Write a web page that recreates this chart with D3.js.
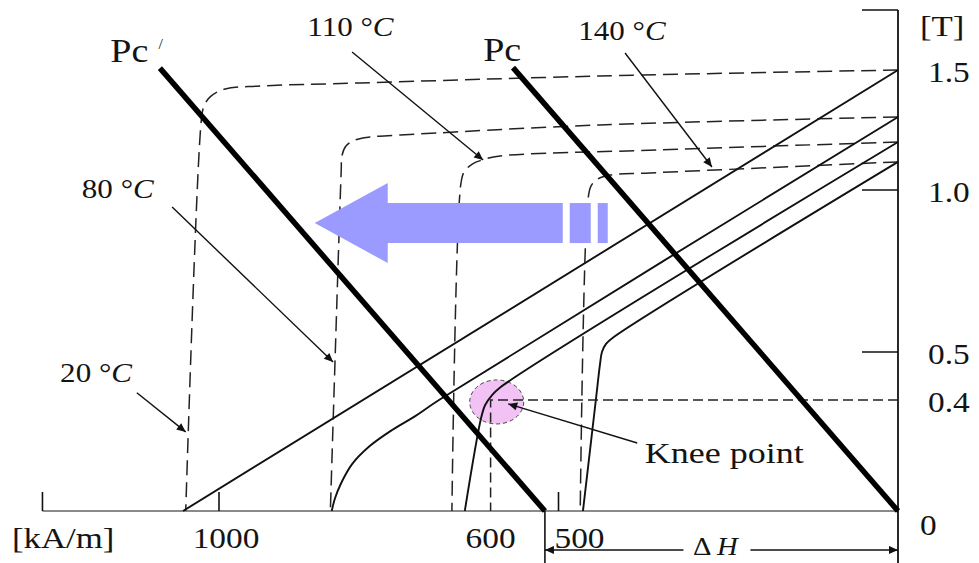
<!DOCTYPE html>
<html><head><meta charset="utf-8">
<script src="https://cdn.jsdelivr.net/npm/d3@7"></script>
<style>
html,body{margin:0;padding:0;background:#fff;}
svg{display:block;}
text{font-family:"Liberation Serif","Times New Roman",serif;fill:#141414;}
</style></head><body>
<svg id="chart" width="979" height="563"></svg>
<script>
// Demagnetization curves of a magnet at four temperatures.
// H is the (reversed) field in kA/m, B the flux density in T.
const temperatures = ["20", "80", "110", "140"];

// Normal B-H curves, points as [H, B]
const bhCurve20  = [[0,1.5],[1053,0]];
const bhCurve80  = [[0,1.304],[676,0.4],[711,0.342],[745,0.292],[778,0.234],[804,0.169],[820,0.101],[829,0.047],[834,0]];
const bhCurve110 = [[0,1.2],[586,0.426],[599,0.408],[608,0.382],[614,0.335],[638,0]];
const bhCurve140 = [[0,1.117],[420,0.544],[430,0.525],[436,0.5],[439,0.473],[445,0.4],[464,0]];

// Intrinsic J-H curves, points as [H, J]
const jhCurve20  = [[0,1.5],[439,1.475],[792,1.446],[940,1.433],[991,1.421],[1013,1.388],[1022,1.35],[1026,1.292],[1049,0]];
const jhCurve80  = [[0,1.304],[439,1.271],[733,1.229],[778,1.221],[800,1.208],[813,1.183],[819,1.142],[820,1.083],[836,0]];
const jhCurve110 = [[0,1.2],[350,1.167],[586,1.142],[608,1.129],[627,1.108],[639,1.075],[644,1.021],[657,0]];
const jhCurve140 = [[0,1.117],[365,1.071],[424,1.0625],[442,1.046],[452,1.017],[457,0.96],[468,0]];

// Permeance (load) lines
const pcLine    = [[567,1.51],[0,0]];
const pcShifted = [[1087,1.508],[520,0]];

const kneePoint = [600, 0.4];

// Axis ticks
const bTicks      = [1.5, 1.0, 0.5, 0.4, 0];
const bTickLabels = ["1.5", "1.0", "0.5", "0.4", "0"];
const bTickMarks  = [1.0, 0.5];
const bAxisTop    = 1.75;
const hTicks      = [1000, 600, 500];
const hTickLabels = ["1000", "600", "500"];
const hTickMarks  = [1260, 1000, 500];
const hAxisEnd    = 1260;

// Callouts: label anchor, arrow start, arrow end, all as [H, B]
const tempCallouts = [
  {at:[1234,0.4375], from:[1121,0.415], to:[1049,0.285]},
  {at:[1202,0.975],  from:[1069,0.9475], to:[832,0.479]},
  {at:[870,1.642],   from:[804,1.575],  to:[611,1.125]},
  {at:[471,1.625],   from:[402,1.571],  to:[274,1.096]}
];
const kneeCallout = {text:"Knee point", at:[373,0.173], from:[384,0.245], to:[574,0.386]};
const kneeMarkCenter = [591, 0.393];
const pcLabelAt = [611, 1.5375];
const pcShiftedLabelAt = [1160, 1.533];
const shiftArrowTip = [859, 0.898];

const svg = d3.select("#chart");
const W = 979, H = 563;

const x = d3.scaleLinear().domain([0, 1000]).range([898, 219]);
// the B axis of this sketch is drawn piecewise
const y = d3.scaleLinear().domain([0, 0.4, 0.5, 1.0, 1.5]).range([511, 400, 352, 190, 70]);

const smooth = d3.line()
  .x(d => x(d[0])).y(d => y(d[1]))
  .curve(d3.curveCatmullRom.alpha(0.5));
const straight = d3.line().x(d => x(d[0])).y(d => y(d[1]));

const defs = svg.append("defs");
defs.append("marker").attr("id", "tip")
  .attr("viewBox", "0 0 10 10").attr("refX", 10).attr("refY", 5)
  .attr("markerWidth", 13).attr("markerHeight", 9)
  .attr("markerUnits", "userSpaceOnUse").attr("orient", "auto-start-reverse")
  .append("path").attr("d", "M0,0.5L10,5L0,9.5Z").attr("fill", "#111");

const ink = "#111";

// ---- axes ----
const axes = svg.append("g");
axes.append("line")
  .attr("x1", x(hAxisEnd)).attr("x2", x(0)).attr("y1", y(0)).attr("y2", y(0))
  .attr("stroke", "#8a8a8a").attr("stroke-width", 2);
axes.selectAll(".htm").data(hTickMarks).join("line")
  .attr("x1", d => x(d)).attr("x2", d => x(d))
  .attr("y1", y(0)).attr("y2", y(0) - 19)
  .attr("stroke", ink).attr("stroke-width", 1.6);
axes.append("line")
  .attr("x1", x(0)).attr("x2", x(0)).attr("y1", y(bAxisTop)).attr("y2", H)
  .attr("stroke", ink).attr("stroke-width", 1.8);
axes.selectAll(".btm").data(bTickMarks.concat([bAxisTop])).join("line")
  .attr("x1", x(0) - 36).attr("x2", x(0))
  .attr("y1", d => y(d)).attr("y2", d => y(d))
  .attr("stroke", ink).attr("stroke-width", 1.6);

// ---- knee marker ----
svg.append("ellipse")
  .attr("cx", x(kneeMarkCenter[0])).attr("cy", y(kneeMarkCenter[1]))
  .attr("rx", 27).attr("ry", 22)
  .attr("fill", "#f1c2f3").attr("stroke", "#444").attr("stroke-width", 1)
  .attr("stroke-dasharray", "4,3");

// ---- curves ----
const curves = svg.append("g").attr("fill", "none");
[jhCurve20, jhCurve80, jhCurve110, jhCurve140].forEach(c => {
  curves.append("path").attr("d", smooth(c))
    .attr("stroke", "#222").attr("stroke-width", 1.5)
    .attr("stroke-dasharray", "15,7");
});
[bhCurve20, bhCurve80, bhCurve110, bhCurve140].forEach(c => {
  curves.append("path").attr("d", smooth(c))
    .attr("stroke", ink).attr("stroke-width", 1.9);
});

// knee point guides
curves.append("path")
  .attr("d", straight([[0, kneePoint[1]], kneePoint, [kneePoint[0], 0]]))
  .attr("stroke", "#222").attr("stroke-width", 1.5)
  .attr("stroke-dasharray", "10,5");

// ---- callout arrows ----
const arrows = svg.append("g");
tempCallouts.concat([kneeCallout]).forEach(c => {
  arrows.append("line")
    .attr("x1", x(c.from[0])).attr("y1", y(c.from[1]))
    .attr("x2", x(c.to[0])).attr("y2", y(c.to[1]))
    .attr("stroke", ink).attr("stroke-width", 1.4)
    .attr("marker-end", "url(#tip)");
});

// ---- shift arrow ----
const tx = x(shiftArrowTip[0]), ty = y(shiftArrowTip[1]);
const shift = svg.append("g").attr("fill", "#9a9aff");
shift.append("path").attr("d",
  `M${tx},${ty}L${tx+73},${ty-40}L${tx+73},${ty-20}L${tx+248},${ty-20}` +
  `L${tx+248},${ty+20}L${tx+73},${ty+20}L${tx+73},${ty+40}Z`);
shift.append("rect").attr("x", tx + 255).attr("y", ty - 20).attr("width", 21).attr("height", 40);
shift.append("rect").attr("x", tx + 283).attr("y", ty - 20).attr("width", 10).attr("height", 40);

// ---- permeance lines ----
[pcLine, pcShifted].forEach(c => {
  svg.append("path").attr("d", straight(c))
    .attr("stroke", "#000").attr("stroke-width", 5.5).attr("fill", "none");
});

// ---- Delta H dimension ----
const dimY = y(0) + 39;
const dimL = x(pcShifted[1][0]), dimR = x(0), dimMid = (dimL + dimR) / 2;
svg.append("line").attr("x1", dimL).attr("x2", dimL).attr("y1", y(0)).attr("y2", H)
  .attr("stroke", ink).attr("stroke-width", 1.6);
svg.append("line").attr("x1", dimMid - 38).attr("x2", dimL).attr("y1", dimY).attr("y2", dimY)
  .attr("stroke", ink).attr("stroke-width", 1.5).attr("marker-end", "url(#tip)");
svg.append("line").attr("x1", dimMid + 29).attr("x2", dimR).attr("y1", dimY).attr("y2", dimY)
  .attr("stroke", ink).attr("stroke-width", 1.5).attr("marker-end", "url(#tip)");

// ---- text ----
function addText(px, py, size, sx, parts, anchor) {
  const t = svg.append("text")
    .attr("transform", `translate(${px},${py}) scale(${sx},1)`)
    .attr("font-size", size)
    .attr("text-anchor", anchor || "start");
  parts.forEach(p => {
    const s = t.append("tspan").text(p.s);
    if (p.italic) s.attr("font-style", "italic");
    if (p.size) s.attr("font-size", p.size);
    if (p.dx) s.attr("dx", p.dx);
    if (p.dy) s.attr("dy", p.dy);
  });
  return t;
}

tempCallouts.forEach((c, i) => {
  addText(x(c.at[0]), y(c.at[1]), 27, 1.15,
    [{s: temperatures[i] + " °"}, {s: "C", italic: true}]);
});
addText(x(kneeCallout.at[0]), y(kneeCallout.at[1]), 30, 1.2, [{s: kneeCallout.text}]);
addText(x(pcLabelAt[0]), y(pcLabelAt[1]), 34, 1.12, [{s: "Pc"}]);
addText(x(pcShiftedLabelAt[0]), y(pcShiftedLabelAt[1]), 34, 1.12,
  [{s: "Pc"}, {s: "/", size: 14, dx: 9, dy: -13}]);

// B tick labels
bTicks.forEach((v, i) => {
  const isZero = v === 0;
  addText(x(0) + (isZero ? 22 : 30), y(v) + (isZero ? 24 : 12), 29, 1.15, [{s: bTickLabels[i]}]);
});
addText(x(0) + 22, y(bAxisTop) + 26, 29, 1.2, [{s: "[T]"}]);

// H tick labels
const hLabelShift = {1000: 7, 600: 0, 500: 21};
hTicks.forEach((v, i) => {
  addText(x(v) + hLabelShift[v], y(0) + 37, 29, 1.15, [{s: hTickLabels[i]}], "middle");
});
addText(12, y(0) + 37, 29, 1.2, [{s: "[kA/m]"}]);

addText(dimMid - 6, dimY + 5, 25, 1.15, [{s: "Δ "}, {s: "H", italic: true}], "middle");
</script>
</body></html>
